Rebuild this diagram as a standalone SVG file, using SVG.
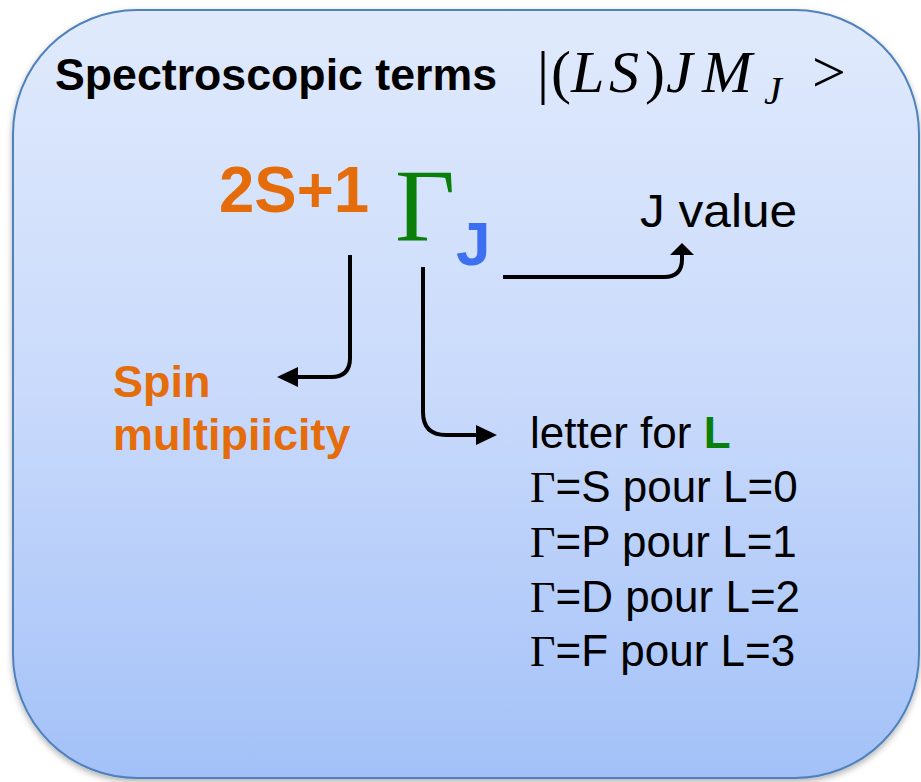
<svg xmlns="http://www.w3.org/2000/svg" width="921" height="782" viewBox="0 0 921 782">
<defs>
<linearGradient id="bg" x1="0" y1="0" x2="0" y2="1">
<stop offset="0" stop-color="#e0eafc"/>
<stop offset="0.5" stop-color="#c9dafb"/>
<stop offset="1" stop-color="#a3c1f8"/>
</linearGradient>
<filter id="sh" x="-5%" y="-5%" width="110%" height="110%">
<feDropShadow dx="0" dy="3" stdDeviation="3" flood-color="#000" flood-opacity="0.3"/>
</filter>
<style>
.sans{font-family:"Liberation Sans",Arial,sans-serif}
.serif{font-family:"Liberation Serif","Times New Roman",serif}
.b{font-weight:bold}
.it{font-style:italic}
.orange{fill:#e46c0a}
.green{fill:#0a800a}
.blue{fill:#3d6ff2}
.conn{fill:none;stroke:#000;stroke-width:4;stroke-linecap:butt}
.head{fill:#000}
.list{font-size:44px;fill:#000}
</style>
</defs>
<g id="box">
<rect x="13" y="10" width="906" height="768" rx="124" ry="124" fill="url(#bg)" stroke="#4f81bd" stroke-width="2" filter="url(#sh)"/>
</g>
<g id="title">
<text class="sans b" x="55" y="90" font-size="44" textLength="442" lengthAdjust="spacingAndGlyphs">Spectroscopic terms</text>
<text class="serif" font-size="60" y="92"><tspan x="537">|</tspan><tspan x="551">(</tspan><tspan class="it" x="571">L</tspan><tspan class="it" x="609">S</tspan><tspan x="645">)</tspan><tspan class="it" x="666">J</tspan><tspan class="it" x="702">M</tspan><tspan x="812">&gt;</tspan></text>
<text class="serif it" font-size="40" x="764" y="104">J</text>
</g>
<g id="symbol">
<text class="sans b orange" x="219" y="212" font-size="64" textLength="150" lengthAdjust="spacingAndGlyphs">2S+1</text>
<text class="serif green" x="395" y="241" font-size="104">Γ</text>
<text class="sans b blue" x="456" y="265" font-size="62">J</text>
</g>
<g id="jvalue">
<text class="sans" x="640" y="227" font-size="46" textLength="157" lengthAdjust="spacingAndGlyphs">J value</text>
</g>
<g id="spin">
<text class="sans b orange" x="113" y="397" font-size="45">Spin</text>
<text class="sans b orange" x="113" y="450" font-size="45">multipiicity</text>
</g>
<g id="letters">
<text class="sans list" x="530" y="448">letter for <tspan class="b green">L</tspan></text>
<text class="sans list" x="530" y="502"><tspan class="serif">Γ</tspan>=S pour L=0</text>
<text class="sans list" x="530" y="557"><tspan class="serif">Γ</tspan>=P pour L=1</text>
<text class="sans list" x="530" y="612"><tspan class="serif">Γ</tspan>=D pour L=2</text>
<text class="sans list" x="530" y="666"><tspan class="serif">Γ</tspan>=F pour L=3</text>
</g>
<g id="connectors">
<path class="conn" d="M350,255 V358 Q350,377 331,377 H296"/>
<polygon class="head" points="277,377 298,367 298,387"/>
<path class="conn" d="M423,267 V412 Q423,435 446,435 H478"/>
<polygon class="head" points="497,435 476,425 476,445"/>
<path class="conn" d="M503,277 H664 Q682,277 682,259 V255"/>
<polygon class="head" points="682,243 670,255 694,255"/>
</g>
</svg>
